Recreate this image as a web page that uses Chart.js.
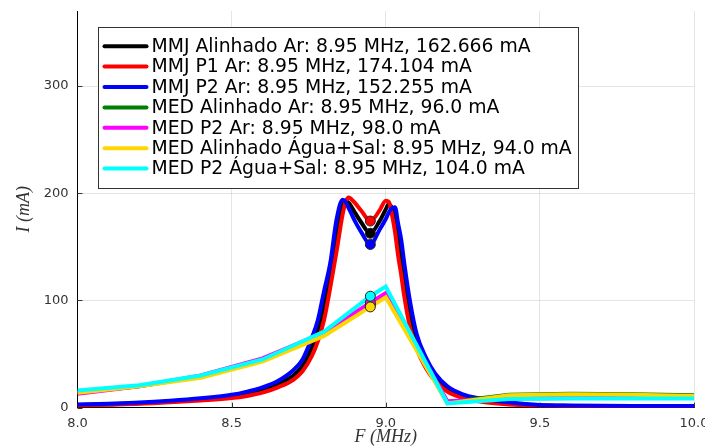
<!DOCTYPE html>
<html>
<head>
<meta charset="utf-8">
<script src="https://cdn.jsdelivr.net/npm/chart.js@4.4.1/dist/chart.umd.min.js"></script>
<style>
  html, body { margin: 0; padding: 0; background: #fff; overflow: hidden; }
  #wrap { width: 720px; height: 448px; }
</style>
</head>
<body>
<div id="wrap"><canvas id="grafico" width="720" height="448"></canvas></div>
<script>
// --- DADOS ---
const seriesNames = [
  "MMJ Alinhado Ar",
  "MMJ P1 Ar",
  "MMJ P2 Ar",
  "MED Alinhado Ar",
  "MED P2 Ar",
  "MED Alinhado Água+Sal",
  "MED P2 Água+Sal"
];
const seriesColors = ["#000000", "#ff0000", "#0000ff", "#008000", "#ff00ff", "#ffd700", "#00ffff"];

// varredura fina das medidas MMJ (MHz)
const freqMMJ = [8.0, 8.1, 8.2, 8.3, 8.4, 8.5, 8.55, 8.6, 8.65, 8.7, 8.73, 8.76, 8.78, 8.8, 8.82, 8.84,
  8.86, 8.87, 8.88, 8.89, 8.9, 8.92, 8.95, 8.98, 9.0, 9.01, 9.02, 9.03, 9.04, 9.05, 9.06, 9.08,
  9.1, 9.13, 9.16, 9.2, 9.25, 9.3, 9.4, 9.5, 9.6, 9.8, 10.0];
const mmjAlinhadoAr = [2.5, 3.3, 4.2, 5.7, 7.8, 10.5, 13, 16.5, 22, 30, 39, 56, 72, 95, 122, 160,
  188, 193, 191, 187, 182, 173, 162.666, 174, 185, 190, 186, 176, 158, 141, 120, 85,
  62, 42, 28, 17, 10.5, 7.5, 4, 2.2, 1.7, 1.4, 1.3];
const mmjP1Ar = [2, 2.8, 3.6, 5, 6.8, 9, 11, 14, 19, 26, 34, 48, 62, 82, 112, 145,
  180, 192, 196, 194, 191, 184, 174.104, 184, 193, 192, 180, 164, 142, 124, 104, 73,
  55, 37, 25, 15, 9, 6, 3, 2, 1.5, 1.2, 1.2];
const mmjP2Ar = [3, 3.8, 4.8, 6.5, 8.8, 12, 15, 19, 25, 35, 45, 65, 82, 109, 135, 175,
  194, 192, 186, 180, 174, 164, 152.255, 166, 176, 182, 186, 187, 172, 157, 135, 97,
  69, 47, 32, 20, 12.5, 9, 5, 2.5, 2, 1.6, 1.5];

// medidas MED (MHz)
const freqMED = [8.0, 8.2, 8.4, 8.6, 8.8, 8.95, 9.0, 9.2, 9.4, 9.6, 9.8, 10.0];
const medAlinhadoAr = [14, 20, 29, 44, 68, 96, 105, 5, 12, 13, 12.5, 11.5];
const medP2Ar = [13, 20, 30, 46, 70, 98, 107, 6, 8.5, 9, 9, 9];
const medAlinhadoAguaSal = [14, 20, 28, 43, 67, 94, 103, 4, 11.5, 12.5, 12, 11];
const medP2AguaSal = [16, 21, 30, 45, 71, 104, 113, 4, 8, 8.5, 8.5, 8.5];

// pico marcado em cada curva
const picoF = 8.95;
const picoI = [162.666, 174.104, 152.255, 96.0, 98.0, 94.0, 104.0];

const xTicks = [8.0, 8.5, 9.0, 9.5, 10.0];
const yTicks = [0, 100, 200, 300];

// --- MONTAGEM ---
const curvas = [
  [freqMMJ, mmjAlinhadoAr], [freqMMJ, mmjP1Ar], [freqMMJ, mmjP2Ar],
  [freqMED, medAlinhadoAr], [freqMED, medP2Ar], [freqMED, medAlinhadoAguaSal], [freqMED, medP2AguaSal]
];

const fmt = v => Number.isInteger(v) ? v.toFixed(1) : String(v);
const rotulos = seriesNames.map((n, i) => `${n}: ${picoF} MHz, ${fmt(picoI[i])} mA`);

const datasets = curvas.map(([fx, fy], i) => ({
  label: rotulos[i],
  data: fx.map((f, k) => ({ x: f, y: fy[k] })),
  borderColor: seriesColors[i],
  backgroundColor: seriesColors[i],
  borderWidth: 4,
  pointRadius: 0,
  tension: 0,
  cubicInterpolationMode: i < 3 ? 'monotone' : 'default',
  order: 7 - i
}));

datasets.push({
  label: 'picos',
  data: picoI.map(v => ({ x: picoF, y: v })),
  showLine: false,
  pointRadius: 5,
  pointBorderWidth: 1,
  pointBorderColor: '#222',
  pointBackgroundColor: seriesColors,
  order: 0
});

// --- PLUGINS ---
const marcasInternas = {
  id: 'marcasInternas',
  beforeDatasetsDraw(chart) {
    const { ctx, chartArea: a, scales: { x, y } } = chart;
    ctx.save();
    ctx.strokeStyle = '#333';
    ctx.lineWidth = 1;
    ctx.beginPath();
    x.ticks.forEach(t => {
      const px = Math.round(x.getPixelForValue(t.value)) + 0.5;
      ctx.moveTo(px, a.bottom); ctx.lineTo(px, a.bottom - 5);
    });
    y.ticks.forEach(t => {
      const py = Math.round(y.getPixelForValue(t.value)) + 0.5;
      ctx.moveTo(a.left, py); ctx.lineTo(a.left + 5, py);
    });
    ctx.stroke();
    ctx.restore();
  }
};

const legenda = {
  id: 'legenda',
  afterDatasetsDraw(chart) {
    const { ctx, chartArea: a } = chart;
    const itens = chart.data.datasets.slice(0, seriesNames.length);
    const x0 = Math.round(a.left + 20) + 0.5;
    const y0 = Math.round(a.top + 16) + 0.5;
    const linha = 20.4;
    ctx.save();
    ctx.font = '18.8px "DejaVu Sans"';
    const largura = Math.max(...itens.map(d => ctx.measureText(d.label).width));
    const w = Math.round(53 + largura + 7);
    const h = 161;
    ctx.fillStyle = '#fff';
    ctx.fillRect(x0, y0, w, h);
    ctx.strokeStyle = '#333';
    ctx.lineWidth = 1;
    ctx.strokeRect(x0, y0, w, h);
    ctx.textBaseline = 'middle';
    ctx.lineCap = 'round';
    itens.forEach((d, i) => {
      const yy = y0 + 18.7 + i * linha;
      ctx.strokeStyle = d.borderColor;
      ctx.lineWidth = 4;
      ctx.beginPath();
      ctx.moveTo(x0 + 6, yy);
      ctx.lineTo(x0 + 48, yy);
      ctx.stroke();
      ctx.fillStyle = '#000';
      ctx.fillText(d.label, x0 + 53, yy + 1);
    });
    ctx.restore();
  }
};

// --- GRAFICO ---
new Chart(document.getElementById('grafico'), {
  type: 'line',
  data: { datasets },
  plugins: [marcasInternas, legenda],
  options: {
    responsive: false,
    animation: false,
    devicePixelRatio: 1,
    layout: { padding: { top: 11, right: 26, left: 0, bottom: 0 } },
    plugins: { legend: { display: false }, tooltip: { enabled: false } },
    scales: {
      x: {
        type: 'linear',
        min: 8,
        max: 10,
        afterBuildTicks: ax => { ax.ticks = xTicks.map(v => ({ value: v })); },
        afterFit: ax => { ax.height = 40.3; ax.paddingLeft = 0; ax.paddingRight = 0; },
        grid: { color: 'rgba(0,0,0,0.1)', drawTicks: false },
        border: { color: '#000', width: 1 },
        ticks: {
          padding: 8,
          color: '#333',
          maxRotation: 0,
          autoSkip: false,
          font: { family: 'DejaVu Sans', size: 13 },
          callback: v => Number(v).toFixed(1)
        },
        title: {
          display: true,
          text: 'F (MHz)',
          color: '#333',
          padding: { top: 0, bottom: 0 },
          font: { family: 'Liberation Serif', style: 'italic', size: 18 }
        }
      },
      y: {
        type: 'linear',
        min: 0,
        max: 370,
        afterBuildTicks: ax => { ax.ticks = yTicks.map(v => ({ value: v })); },
        afterFit: ax => { ax.width = 77.5; ax.paddingTop = 0; ax.paddingBottom = 0; },
        grid: { color: 'rgba(0,0,0,0.1)', drawTicks: false },
        border: { color: '#000', width: 1 },
        ticks: {
          padding: 9,
          color: '#333',
          font: { family: 'DejaVu Sans', size: 13 }
        },
        title: {
          display: true,
          text: 'I (mA)',
          color: '#333',
          padding: { top: 13, bottom: 0 },
          font: { family: 'Liberation Serif', style: 'italic', size: 18 }
        }
      }
    }
  }
});
</script>
</body>
</html>
